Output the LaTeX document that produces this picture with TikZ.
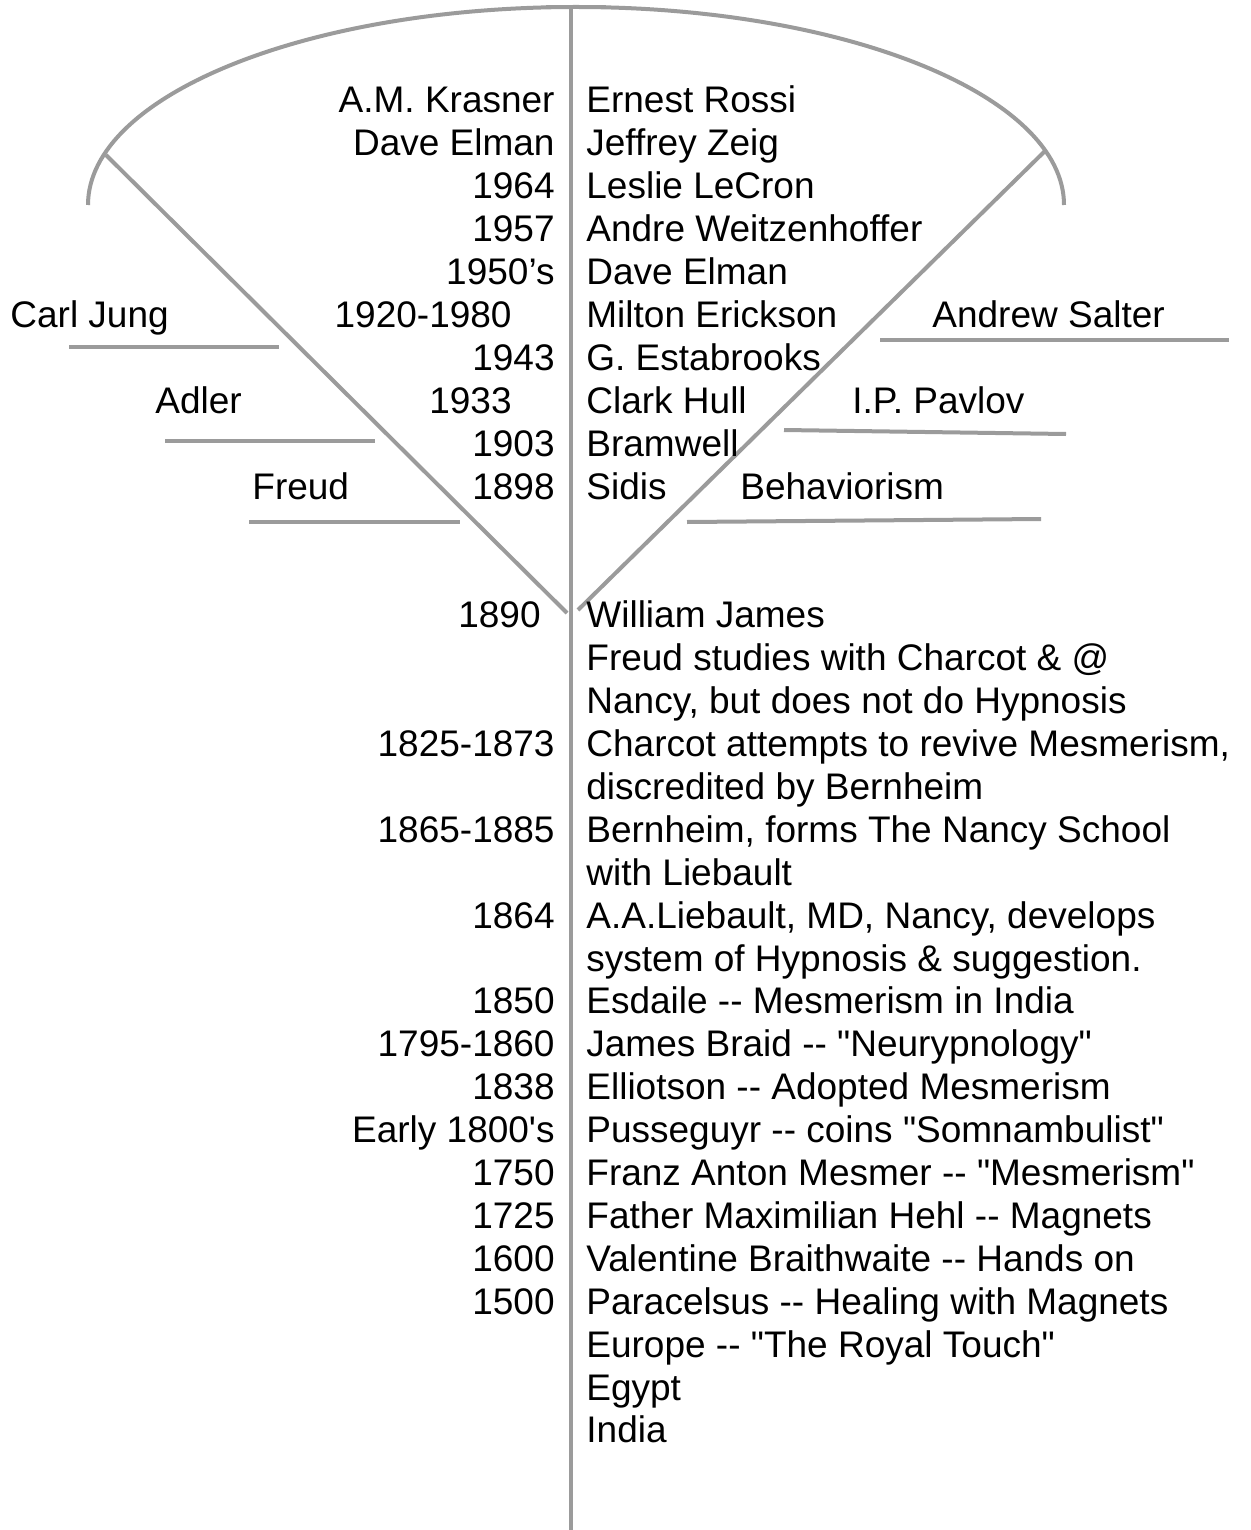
\documentclass[tikz,border=0pt]{standalone}
\usepackage{fontspec}
\setmainfont{Liberation Sans}[Ligatures=TeXOff]
\usetikzlibrary{positioning}

\definecolor{rulegray}{RGB}{155,155,155}
\tikzset{
  rule/.style={draw=rulegray, line width=2pt},
  txt/.style={inner sep=0pt, font=\fontsize{18.5}{22}\selectfont},
  rtext/.style={txt, anchor=base west},
  ltext/.style={txt, anchor=base east},
}

\begin{document}
\begin{tikzpicture}[x=0.5pt,y=-0.5pt]
  \useasboundingbox (0,0) rectangle (1251,1530);

  % timeline axis and fan
  \coordinate (top) at (571,7);
  \coordinate (bottom) at (571,1530);
  \coordinate (capl) at (546,7);
  \coordinate (capr) at (606,7);
  \coordinate (arcl) at (88,205);
  \coordinate (dl1) at (106,155);
  \coordinate (dl2) at (567,613);
  \coordinate (dr1) at (1045,151);
  \coordinate (dr2) at (578,610);
  \draw[rule] (top) -- (bottom);
  \draw[rule] (capl) -- (capr);
  \draw[rule] (arcl) arc[start angle=180, end angle=360, x radius=488, y radius=198];
  \draw[rule] (dl1) -- (dl2);
  \draw[rule] (dr1) -- (dr2);

  % right column
  \foreach \row/\txt in {1/Ernest Rossi, 2/Jeffrey Zeig, 3/Leslie LeCron,
      4/Andre Weitzenhoffer, 5/Dave Elman, 6/Milton Erickson, 7/G. Estabrooks,
      8/Clark Hull, 9/Bramwell, 10/Sidis, 13/William James,
      14/{Freud studies with Charcot \& @}, 15/{Nancy, but does not do Hypnosis},
      16/{Charcot attempts to revive Mesmerism,}, 17/discredited by Bernheim,
      18/{Bernheim, forms The Nancy School}, 19/with Liebault,
      20/{A.A.Liebault, MD, Nancy, develops}, 21/system of Hypnosis \& suggestion.,
      22/Esdaile -- Mesmerism in India, 23/James Braid -- "Neurypnology",
      24/Elliotson -- Adopted Mesmerism, 25/Pusseguyr -- coins "Somnambulist",
      26/Franz Anton Mesmer -- "Mesmerism", 27/Father Maximilian Hehl -- Magnets,
      28/Valentine Braithwaite -- Hands on, 29/Paracelsus -- Healing with Magnets,
      30/Europe -- "The Royal Touch", 31/Egypt, 32/India}
    \node[rtext] (r\row) at (586,{113+(\row-1)*42.9}) {\txt};

  % left column
  \foreach \row/\txt in {1/A.M. Krasner, 2/Dave Elman, 3/1964, 4/1957, 5/1950’s,
      7/1943, 9/1903, 10/1898, 16/1825-1873, 18/1865-1885, 20/1864, 22/1850,
      23/1795-1860, 24/1838, 25/Early 1800's, 26/1750, 27/1725, 28/1600, 29/1500}
    \node[ltext] (l\row) at ([xshift=-15.5pt]r\row.base west) {\txt};
  \node[ltext] (l6) at ([xshift=-37pt]r6.base west) {1920-1980};
  \node[ltext] (l8) at ([xshift=-37pt]r8.base west) {1933};
  \node[ltext] (l13) at ([xshift=-22.5pt]r13.base west) {1890};

  % schools
  \node[rtext] (jung) at (10,327.5) {Carl Jung};
  \node[rtext] (adler) at (155,413.3) {Adler};
  \node[rtext] (freud) at (252,499.1) {Freud};
  \node[rtext] (salter) at (932,327.5) {Andrew Salter};
  \node[rtext] (pavlov) at (852,413.3) {I.P. Pavlov};
  \node[rtext] (behav) at (740,499.1) {Behaviorism};
  \coordinate (jung1) at (69,347);   \coordinate (jung2) at (279,347);
  \coordinate (adler1) at (165,441); \coordinate (adler2) at (375,441);
  \coordinate (freud1) at (249,522); \coordinate (freud2) at (460,522);
  \coordinate (salter1) at (880,340); \coordinate (salter2) at (1229,340);
  \coordinate (pavlov1) at (784,430); \coordinate (pavlov2) at (1066,434);
  \coordinate (behav1) at (687,522); \coordinate (behav2) at (1041,519);
  \foreach \s in {jung,adler,freud,salter,pavlov,behav}
    \draw[rule] (\s1) -- (\s2);
\end{tikzpicture}
\end{document}
